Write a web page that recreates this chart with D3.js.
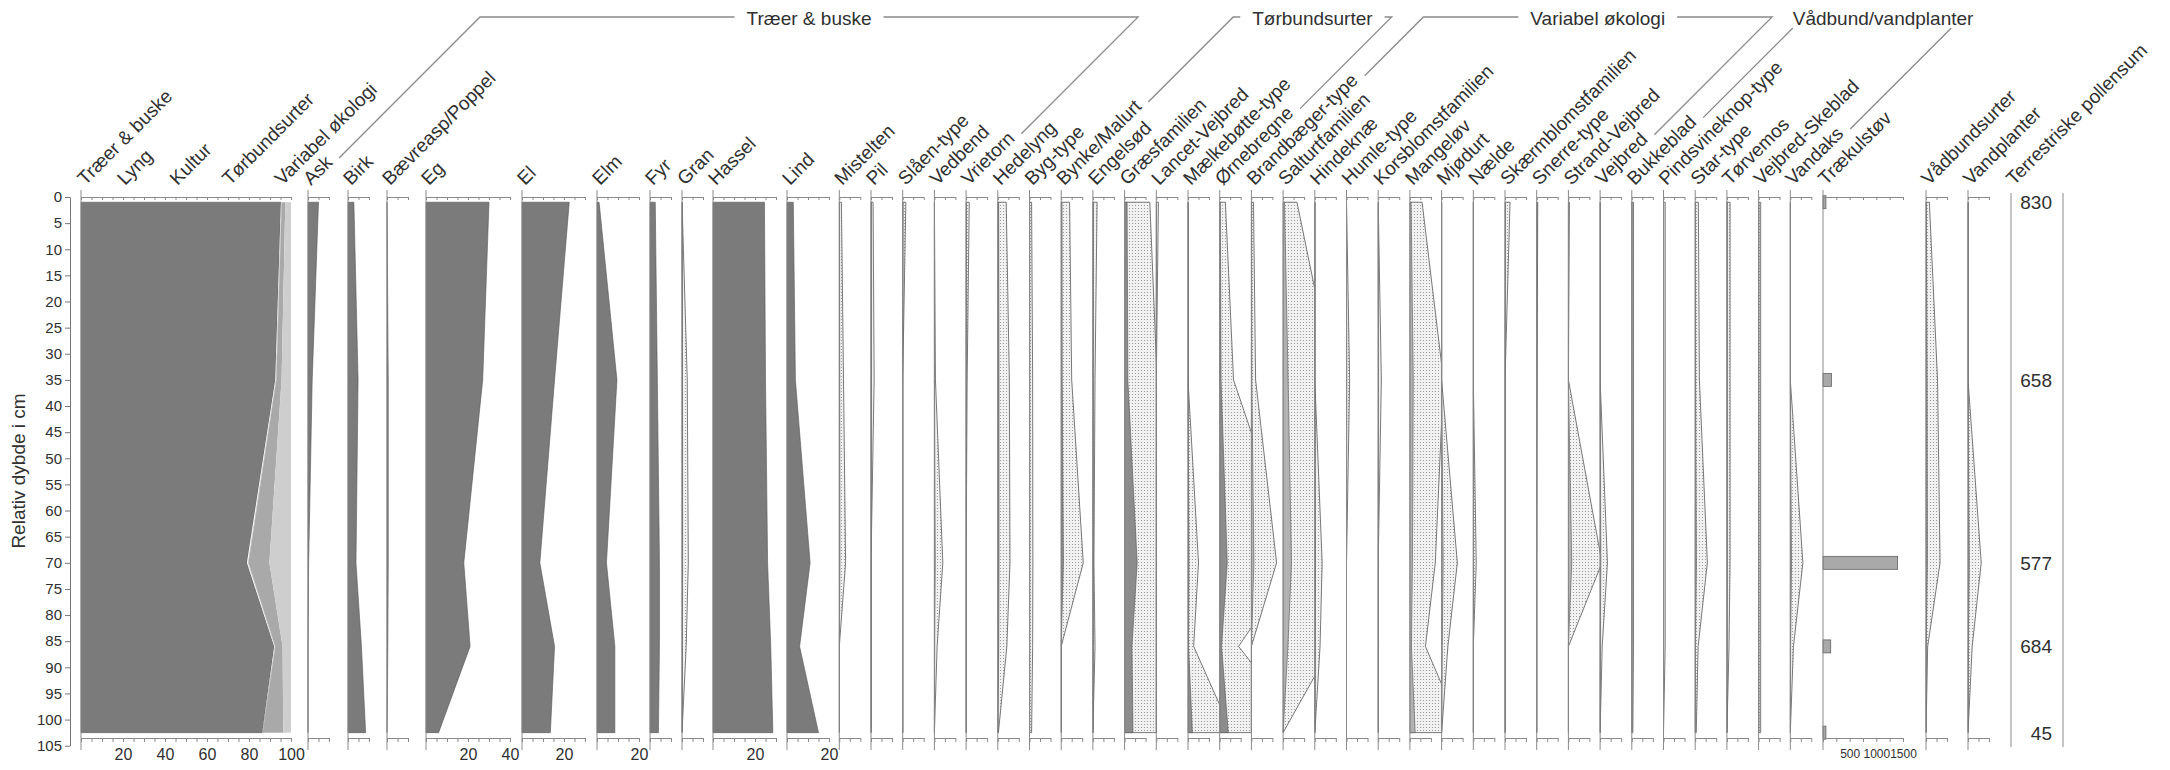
<!DOCTYPE html>
<html>
<head>
<meta charset="utf-8">
<script src="https://cdn.jsdelivr.net/npm/d3@7"></script>
<style>
  body { margin: 0; background: #fff; }
  text { font-family: "Liberation Sans", Arial, sans-serif; fill: #303030; }
</style>
</head>
<body>
<svg id="chart" width="2170" height="770"></svg>
<script>
// ---- data ----
const depths = [1, 35, 70, 86, 102.5];
const depthTicks = [0, 5, 10, 15, 20, 25, 30, 35, 40, 45, 50, 55, 60, 65, 70, 75, 80, 85, 90, 95, 100, 105];

// summary diagram, % of terrestrial pollen
const compNames = ["Træer & buske", "Lyng", "Kultur", "Tørbundsurter", "Variabel økologi"];
const compTraeer = [95.2, 92.5, 79, 92, 86.3];
const compLyng = [0.3, 0.4, 0.6, 0.4, 0.1];
const compKultur = [0.1, 0.1, 0.2, 0.1, 0.1];
const compTorbund = [1.7, 2.5, 9.9, 3.5, 9.8];
const compVariabel = [2.7, 4.5, 10.3, 4.0, 3.7];

// trees & shrubs
const askVals = [5, 2, 0.3, 0, 0];
const birkVals = [2.8, 4.8, 3.8, 6.4, 8.4];
const baevreaspVals = [0, 0.6, 0.6, 0.4, 0];
const egVals = [30, 27, 18, 21, 6];
const elVals = [22.5, 15.5, 8.5, 15.5, 13.5];
const elmVals = [1, 9.5, 4.5, 8.5, 8.5];
const fyrVals = [2.5, 3.5, 4.5, 4.5, 4];
const granVals = [0, 0.25, 0.3, 0.2, 0];
const hasselVals = [24.5, 25, 26, 27.5, 28.5];
const lindVals = [3, 4, 11, 6, 15];
const mistelVals = [0.1, 0.2, 0.3, 0, 0];
const pilVals = [0.1, 0.15, 0, 0, 0];
const slaenVals = [0.15, 0, 0, 0, 0];
const vedbendVals = [0, 0.05, 0.4, 0.13, 0];
const vrietornVals = [0.15, 0.05, 0, 0, 0];
// lyng, kultur
const hedelyngVals = [0.4, 0.55, 0.58, 0.43, 0.03];
const bygVals = [0.1, 0.15, 0.16, 0.15, 0.1];
// tørbundsurter
const bynkeVals = [0.4, 0.5, 1.05, 0, 0];
const engelsodVals = [0.2, 0.1, 0.05, 0.1, 0];
const graesVals = [1.2, 1.55, 6, 3.5, 4];
const lancetVals = [0.1, 0, 0, 0, 0];
const maelkeVals = [0, 0, 0.5, 0.27, 2.1];
const ornebregneVals = [0.27, 0.66, 3.6, 0.9, 4.1];
// variabel økologi
const brandbaegerVals = [0.1, 0.2, 1.2, 0, 0];
const salturtVals = [0.66, 2.4, 4, 2.3, 0];
const hindeknaeVals = [0, 0, 0.35, 0.25, 0];
const humleVals = [0, 0.15, 0, 0, 0];
const korsblomstVals = [0, 0.15, 0, 0, 0];
const mangelovVals = [0.58, 1.6, 1.21, 0.74, 2.5];
const mjodurtVals = [0, 0, 0.75, 0.3, 0];
const naeldeVals = [0, 0, 0.14, 0, 0];
const skaermVals = [0.24, 0, 0, 0, 0];
const snerreVals = [0.05, 0.02, 0, 0, 0];
const strandVejbredVals = [0.05, 0, 1.6, 0, 0];
const vejbredVals = [0, 0, 0.35, 0.1, 0];
// vådbund / vandplanter
const bukkebladVals = [0.08, 0.08, 0.08, 0.08, 0.05];
const pindsvineVals = [0.08, 0.08, 0.08, 0.08, 0];
const starVals = [0.15, 0.2, 0.58, 0.14, 0.05];
const torvemosVals = [0.15, 0.15, 0.15, 0.1, 0];
const vejbredSkebladVals = [0.1, 0.1, 0.1, 0.1, 0.1];
const vandaksVals = [0, 0, 0.6, 0.15, 0];
// other
const traekulVals = [55, 160, 1400, 145, 55];
const traekulTicks = [500, 1000, 1500];
const vadbundsurterVals = [0.16, 0.55, 0.67, 0.08, 0];
const vandplanterVals = [0, 0, 0.63, 0.2, 0];
const pollensum = [830, 658, 577, 684, 45];

// ---- layout ----
const svg = d3.select("#chart");
const defs = svg.append("defs");
const PX = 2.1;             // px per percent
const EXAG = 10;            // exaggeration of the hollow curves
const axTop = 197, axBot = 738;
const y = d3.scaleLinear().domain([0, 105]).range([197, 745.7]);

const pat = defs.append("pattern").attr("id", "stip")
  .attr("width", 3).attr("height", 3).attr("patternUnits", "userSpaceOnUse");
pat.append("rect").attr("width", 3).attr("height", 3).attr("fill", "#f2f2f2");
pat.append("circle").attr("cx", 1.5).attr("cy", 1.5).attr("r", 0.6).attr("fill", "#8f8f8f");

const fillCol = {tree: "#7b7b7b", lyng: "#8a8a8a", kultur: "#8a8a8a", torb: "#8c8c8c", var: "#b2b2b2", vad: "#999"};

const taxa = [
  {name: "Ask", vals: askVals, max: 10, grp: "tree"},
  {name: "Birk", vals: birkVals, max: 10, grp: "tree"},
  {name: "Bævreasp/Poppel", vals: baevreaspVals, max: 10, grp: "tree"},
  {name: "Eg", vals: egVals, max: 40, grp: "tree", labels: [20, 40]},
  {name: "El", vals: elVals, max: 30, grp: "tree", labels: [20]},
  {name: "Elm", vals: elmVals, max: 20, grp: "tree", labels: [20]},
  {name: "Fyr", vals: fyrVals, max: 10, grp: "tree"},
  {name: "Gran", vals: granVals, max: 10, grp: "tree", exag: true},
  {name: "Hassel", vals: hasselVals, max: 30, grp: "tree", labels: [20]},
  {name: "Lind", vals: lindVals, max: 20, grp: "tree", labels: [20]},
  {name: "Mistelten", vals: mistelVals, grp: "tree"},
  {name: "Pil", vals: pilVals, grp: "tree"},
  {name: "Slåen-type", vals: slaenVals, grp: "tree"},
  {name: "Vedbend", vals: vedbendVals, grp: "tree"},
  {name: "Vrietorn", vals: vrietornVals, grp: "tree"},
  {name: "Hedelyng", vals: hedelyngVals, grp: "lyng"},
  {name: "Byg-type", vals: bygVals, grp: "kultur"},
  {name: "Bynke/Malurt", vals: bynkeVals, grp: "torb"},
  {name: "Engelsød", vals: engelsodVals, grp: "torb"},
  {name: "Græsfamilien", vals: graesVals, grp: "torb"},
  {name: "Lancet-Vejbred", vals: lancetVals, grp: "torb"},
  {name: "Mælkebøtte-type", vals: maelkeVals, grp: "torb"},
  {name: "Ørnebregne", vals: ornebregneVals, grp: "torb"},
  {name: "Brandbæger-type", vals: brandbaegerVals, grp: "var"},
  {name: "Salturtfamilien", vals: salturtVals, grp: "var"},
  {name: "Hindeknæ", vals: hindeknaeVals, grp: "var"},
  {name: "Humle-type", vals: humleVals, grp: "var"},
  {name: "Korsblomstfamilien", vals: korsblomstVals, grp: "var"},
  {name: "Mangeløv", vals: mangelovVals, grp: "var"},
  {name: "Mjødurt", vals: mjodurtVals, grp: "var"},
  {name: "Nælde", vals: naeldeVals, grp: "var"},
  {name: "Skærmblomstfamilien", vals: skaermVals, grp: "var"},
  {name: "Snerre-type", vals: snerreVals, grp: "var"},
  {name: "Strand-Vejbred", vals: strandVejbredVals, grp: "var"},
  {name: "Vejbred", vals: vejbredVals, grp: "var"},
  {name: "Bukkeblad", vals: bukkebladVals, grp: "vad"},
  {name: "Pindsvineknop-type", vals: pindsvineVals, grp: "vad"},
  {name: "Star-type", vals: starVals, grp: "vad"},
  {name: "Tørvemos", vals: torvemosVals, grp: "vad"},
  {name: "Vejbred-Skeblad", vals: vejbredSkebladVals, grp: "vad"},
  {name: "Vandaks", vals: vandaksVals, grp: "vad"},
  {name: "Vådbundsurter", vals: vadbundsurterVals, grp: "vad"},
  {name: "Vandplanter", vals: vandplanterVals, grp: "vad"}
];

// left edge of every panel
const treeLeft = [308, 348, 387, 426, 522, 597, 650, 682, 713, 787];
taxa.forEach((t, i) => {
  if (i < 10) t.x = treeLeft[i];
  else if (t.name === "Vådbundsurter") t.x = 1926;
  else if (t.name === "Vandplanter") t.x = 1968;
  else { t.x = 839.3 + 31.7 * (i - 10); t.max = 10; t.exag = true; }
  if (!t.max) t.max = 10;
  if (t.name === "Vådbundsurter" || t.name === "Vandplanter") t.exag = true;
});
const traekulX = 1823, sumX = 2011;
taxa.forEach((t, i) => {
  const next = i < taxa.length - 1 ? taxa[i + 1].x : t.x + 42;
  t.clipW = (t.name === "Vandaks") ? traekulX - t.x : next - t.x;
});

// ---- depth axis ----
svg.append("g")
  .attr("transform", "translate(70,0)")
  .call(d3.axisLeft(y).tickValues(depthTicks).tickSize(5).tickSizeOuter(0).tickPadding(3))
  .call(g => g.selectAll("text").attr("font-size", 15).attr("font-family", null).attr("fill", "#303030"))
  .call(g => g.selectAll("line,path").attr("stroke", "#777"));

svg.append("text")
  .attr("transform", "translate(25,471) rotate(-90)")
  .attr("text-anchor", "middle").attr("font-size", 19)
  .text("Relativ dybde i cm");

// helper: vertical line + top/bottom axes for one panel
function panelAxes(xs, max, step, labels, fs) {
  const x0 = xs(0);
  svg.append("line").attr("x1", x0).attr("x2", x0).attr("y1", 190).attr("y2", 750)
    .attr("stroke", "#8a8a8a");
  const ticks = d3.range(0, max + 1e-6, step);
  svg.append("g").attr("transform", `translate(0,${axTop})`)
    .call(d3.axisBottom(xs).tickValues(ticks).tickSize(3).tickSizeOuter(0).tickFormat(""))
    .call(g => g.selectAll("line,path").attr("stroke", "#8a8a8a"));
  svg.append("g").attr("transform", `translate(0,${axBot})`)
    .call(d3.axisBottom(xs).tickValues(ticks).tickSize(4).tickSizeOuter(0).tickPadding(7)
      .tickFormat(d => (labels || []).includes(d) ? d : ""))
    .call(g => g.selectAll("line,path").attr("stroke", "#8a8a8a"))
    .call(g => g.selectAll("text").attr("font-size", fs || 16).attr("font-family", null).attr("fill", "#303030"));
}

// ---- summary panel ----
const xc = d3.scaleLinear().domain([0, 100]).range([81, 81 + 100 * PX]);
const compRows = depths.map((d, j) => ({
  depth: d,
  "Træer & buske": compTraeer[j], "Lyng": compLyng[j], "Kultur": compKultur[j],
  "Tørbundsurter": compTorbund[j], "Variabel økologi": compVariabel[j]
}));
const compColors = ["#7b7b7b", "#f4f4f4", "#9a9a9a", "#a9a9a9", "#cecece"];
svg.append("g").selectAll("path")
  .data(d3.stack().keys(compNames)(compRows))
  .join("path")
  .attr("d", d3.area().y(d => y(d.data.depth)).x0(d => xc(d[0])).x1(d => xc(d[1])))
  .attr("fill", (d, i) => compColors[i])
  .attr("stroke", (d, i) => i === 0 ? "#5a5a5a" : "none").attr("stroke-width", 0.6);
panelAxes(xc, 100, 5, [20, 40, 60, 80, 100]);
const compLabelPct = [2, 21, 46, 71, 96];
compNames.forEach((n, i) => {
  svg.append("text").attr("transform", `translate(${xc(compLabelPct[i])},186) rotate(-45)`)
    .attr("font-size", 19).text(n);
});

// ---- taxon panels ----
const labelNodes = {};
taxa.forEach((t, i) => {
  const xs = d3.scaleLinear().domain([0, t.max]).range([t.x, t.x + t.max * PX]);
  const rows = depths.map((d, j) => ({d, v: t.vals[j]}));
  if (t.exag) {
    const id = "clip" + i;
    defs.append("clipPath").attr("id", id)
      .append("rect").attr("x", t.x).attr("y", 0).attr("width", t.clipW).attr("height", 770);
    svg.append("path").datum(rows)
      .attr("clip-path", `url(#${id})`)
      .attr("d", d3.area().y(r => y(r.d)).x0(t.x).x1(r => xs(r.v * EXAG)))
      .attr("fill", "url(#stip)").attr("stroke", "#6a6a6a").attr("stroke-width", 0.9);
  }
  svg.append("path").datum(rows)
    .attr("d", d3.area().y(r => y(r.d)).x0(t.x).x1(r => xs(r.v)))
    .attr("fill", fillCol[t.grp]).attr("stroke", "#555").attr("stroke-width", 0.6);
  panelAxes(xs, t.max, 5, t.labels);
  labelNodes[t.name] = svg.append("text")
    .attr("transform", `translate(${t.x + 3},186) rotate(-45)`)
    .attr("font-size", 19).text(t.name);
  labelNodes[t.name].datum({x: t.x + 3});
});

// ---- Trækulstøv (bars) ----
const xt = d3.scaleLinear().domain([0, 1500]).range([traekulX, traekulX + 80]);
svg.append("g").selectAll("rect")
  .data(depths.map((d, j) => ({d, v: traekulVals[j]})))
  .join("rect")
  .attr("x", traekulX).attr("y", r => y(r.d) - 6.5)
  .attr("width", r => xt(r.v) - traekulX).attr("height", 13)
  .attr("fill", "#a9a9a9").attr("stroke", "#555").attr("stroke-width", 0.7);
panelAxes(xt, 1500, 250, traekulTicks, 12);
labelNodes["Trækulstøv"] = svg.append("text")
  .attr("transform", `translate(${traekulX + 3},186) rotate(-45)`)
  .attr("font-size", 19).text("Trækulstøv");

// ---- terrestrial pollen sum ----
[sumX, sumX + 52].forEach(x => svg.append("line")
  .attr("x1", x).attr("x2", x).attr("y1", 193).attr("y2", 747).attr("stroke", "#8a8a8a"));
svg.append("g").selectAll("text")
  .data(depths.map((d, j) => ({d, v: pollensum[j]})))
  .join("text")
  .attr("x", sumX + 41).attr("y", r => y(r.d) + 7)
  .attr("text-anchor", "end").attr("font-size", 19)
  .text(r => r.v);
svg.append("text")
  .attr("transform", `translate(${sumX + 3},186) rotate(-45)`)
  .attr("font-size", 19).text("Terrestriske pollensum");

// ---- group brackets ----
const groups = [
  {name: "Træer & buske", first: "Ask", last: "Vrietorn"},
  {name: "Tørbundsurter", first: "Bynke/Malurt", last: "Ørnebregne"},
  {name: "Variabel økologi", first: "Brandbæger-type", last: "Vejbred"},
  {name: "Vådbund/vandplanter", first: "Bukkeblad", last: "Vandaks"}
];
function labelEnd(name) {
  const node = labelNodes[name];
  const L = node.node().getComputedTextLength() + 8;
  return [node.datum().x + L * Math.SQRT1_2, 186 - L * Math.SQRT1_2];
}
const gy = 17, gap = 12;
groups.forEach(g => {
  const [lx, ly] = labelEnd(g.first);
  const [rx, ry] = labelEnd(g.last);
  const topL = lx + (ly - gy), topR = rx + (ry - gy);
  const lab = svg.append("text").attr("x", (topL + topR) / 2).attr("y", 25)
    .attr("text-anchor", "middle").attr("font-size", 19).text(g.name);
  const w = lab.node().getComputedTextLength();
  const left = (topL + topR) / 2 - w / 2, right = (topL + topR) / 2 + w / 2;
  let p = "";
  if (topL + gap <= left) p += `M${lx},${ly}L${topL},${gy}L${left - gap},${gy}`;
  else p += `M${lx},${ly}L${lx + (ly - 28)},28`;
  if (topR - gap >= right) p += `M${rx},${ry}L${topR},${gy}L${right + gap},${gy}`;
  else p += `M${rx},${ry}L${rx + (ry - 28)},28`;
  svg.append("path").attr("d", p).attr("fill", "none")
    .attr("stroke", "#8a8a8a").attr("stroke-width", 1.3);
});
</script>
</body>
</html>
